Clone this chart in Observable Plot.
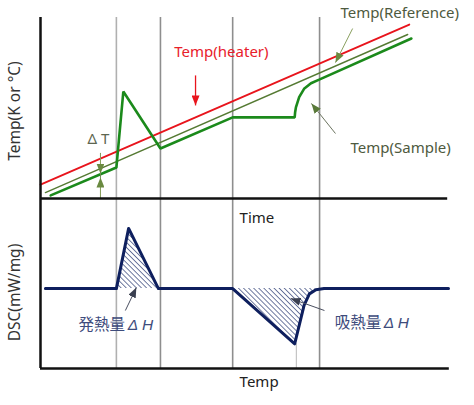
<!DOCTYPE html>
<html><head><meta charset="utf-8">
<script src="https://cdn.jsdelivr.net/npm/d3@7"></script>
<script src="https://cdn.jsdelivr.net/npm/@observablehq/plot@0.6"></script>
<style>
body{margin:0;background:#fff;}
#wrap{position:relative;width:474px;height:405px;}
#wrap svg{position:absolute;left:0;background:transparent;overflow:visible;}
</style></head><body><div id="wrap"></div>
<script>
// ---------- data: upper panel (temperature vs time) ----------
const heaterT = [0, 90.4];
const heaterY = [7.7, 96.1];
const refT = [1.2, 90.0];
const refY = [3.3, 90.6];
const sampleT = [2.5, 18.6, 20.3, 29.4, 47.1, 62.3, 62.4, 62.6, 63.4, 64.6, 66.3, 68.3, 90.9];
const sampleY = [1.7, 17.1, 59.1, 27.6, 44.8, 44.8, 47.5, 50.3, 56.0, 60.6, 63.7, 65.7, 88.4];
const eventT = [18.6, 29.4, 47.1, 68.4];
const eventColor = ["#b0b0b0", "#8e8e8e", "#8e8e8e", "#8e8e8e"];
const peakMinT = 62.7;

// ---------- data: lower panel (DSC vs temp) ----------
const dscT = [1.2, 18.6, 21.6, 28.9, 47.1, 62.3, 64.6, 65.9, 67.5, 69.5, 100];
const dscY = [47, 47, 82.4, 47, 47, 14.5, 37.1, 43.9, 46.3, 47, 47];
const dscBaseline = 47;
const exoIdx = [1, 2, 3];
const endoIdx = [4, 5, 6, 7, 8];

// ---------- labels ----------
const yLabelTop = "Temp(K or °C)";
const yLabelBottom = "DSC(mW/mg)";
const xLabelTop = "Time";
const xLabelBottom = "Temp";
const labelT = 48.8;

const topNotes = [
  {x: 32.8, y: 80.7, text: "Temp(heater)", color: "#e8202a"},
  {x: 73.5, y: 102.2, text: "Temp(Reference)", color: "#4e5a40"},
  {x: 76.0, y: 27.6, text: "Temp(Sample)", color: "#4e5a40"}
];
const deltaT = [{x: 14.2, y: 32.6, text: "Δ T"}];
const topArrows = [
  {x1: 38.0, y1: 68.0, x2: 38.0, y2: 51.4, c: "red"},
  {x1: 76.5, y1: 93.9, x2: 72.3, y2: 75.1, c: "olive"},
  {x1: 72.3, y1: 35.9, x2: 66.4, y2: 52.5, c: "gray"},
  {x1: 14.7, y1: 24.9, x2: 14.7, y2: 13.8, c: "olive"},
  {x1: 14.7, y1: 0, x2: 14.7, y2: 11.6, c: "olive"}
];
const bottomNotes = [
  {x: 9.3, y: 25.3, text: "発熱量"},
  {x: 72.1, y: 26.5, text: "吸熱量"}
];
const bottomDelta = [
  {x: 21.4, y: 25.3, text: "Δ H"},
  {x: 84.1, y: 26.5, text: "Δ H"}
];
const bottomArrows = [
  {x1: 20.8, y1: 34.1, x2: 23.5, y2: 47.6},
  {x1: 69.6, y1: 34.1, x2: 61.3, y2: 41.2}
];

const font = '"Noto Sans", "Noto Sans CJK JP", sans-serif';
const navy = "#0e1f5e";
const frameColor = "#111";

const sampleData = sampleT.map((t, i) => ({t, v: sampleY[i]}));
const heaterData = heaterT.map((t, i) => ({t, v: heaterY[i]}));
const refData = refT.map((t, i) => ({t, v: refY[i]}));
const dscData = dscT.map((t, i) => ({t, v: dscY[i]}));
const exoData = exoIdx.map(i => dscData[i]);
const endoData = endoIdx.map(i => dscData[i]);
const events = eventT.map((t, i) => ({t, c: eventColor[i]}));

const upper = Plot.plot({
  width: 474, height: 200,
  marginLeft: 40, marginRight: 26, marginTop: 17, marginBottom: 2,
  x: {domain: [0, 100], axis: null},
  y: {domain: [0, 100], axis: null},
  color: {type: "identity"},
  style: {background: "transparent", overflow: "visible", fontFamily: font},
  marks: [
    Plot.ruleX(events, {x: "t", y1: 0, y2: 100, stroke: "c", strokeWidth: 1.6}),
    Plot.line(heaterData, {x: "t", y: "v", stroke: "#e8141c", strokeWidth: 1.8}),
    Plot.line(refData, {x: "t", y: "v", stroke: "#557a33", strokeWidth: 1.4}),
    Plot.line(sampleData, {x: "t", y: "v", stroke: "#1b8a1b", strokeWidth: 2.6, strokeLinejoin: "miter"}),
    Plot.ruleX([14.7], {y1: 0, y2: 24.9, stroke: "#6f8a55", strokeWidth: 1}),
    Plot.link(topArrows.filter(d => d.c === "red"), {x1: "x1", y1: "y1", x2: "x2", y2: "y2", stroke: "#e8141c", strokeWidth: 1.3, className: "arr-red"}),
    Plot.link(topArrows.filter(d => d.c === "olive"), {x1: "x1", y1: "y1", x2: "x2", y2: "y2", stroke: "#8aa060", strokeWidth: 1, className: "arr-olive"}),
    Plot.link(topArrows.filter(d => d.c === "gray"), {x1: "x1", y1: "y1", x2: "x2", y2: "y2", stroke: "#6c7460", strokeWidth: 1, className: "arr-green"}),
    Plot.text(topNotes, {x: "x", y: "y", text: "text", fill: "color", textAnchor: "start", fontSize: 15}),
    Plot.text(deltaT, {x: "x", y: "y", text: "text", fill: "#5d6650", textAnchor: "middle", fontSize: 15}),
    Plot.ruleX([0], {y1: 0, y2: 100, stroke: frameColor, strokeWidth: 2.5}),
    Plot.ruleY([0], {x1: 0, x2: 99.8, stroke: frameColor, strokeWidth: 2.5}),
    Plot.text([yLabelTop], {frameAnchor: "left", textAnchor: "middle", dx: -25, dy: 3, rotate: -90, fontSize: 15.5, fill: "#333"})
  ]
});

const lower = Plot.plot({
  width: 474, height: 207,
  marginLeft: 40, marginRight: 26, marginTop: 0, marginBottom: 37,
  x: {domain: [0, 100], axis: null},
  y: {domain: [0, 100], axis: null},
  color: {type: "identity"},
  style: {background: "transparent", overflow: "visible", fontFamily: font},
  marks: [
    Plot.ruleX(events, {x: "t", y1: 0, y2: 100, stroke: "c", strokeWidth: 1.6}),
    Plot.ruleX([peakMinT], {y1: 0, y2: 14.5, stroke: "#b8b8b8", strokeWidth: 1}),
    Plot.areaY(exoData, {x: "t", y1: dscBaseline, y2: "v", fill: "url(#hatch)"}),
    Plot.areaY(endoData, {x: "t", y1: dscBaseline, y2: "v", fill: "url(#hatch)"}),
    Plot.line(dscData, {x: "t", y: "v", stroke: navy, strokeWidth: 3, curve: "linear"}),
    Plot.link(bottomArrows, {x1: "x1", y1: "y1", x2: "x2", y2: "y2", stroke: "#4a4f60", strokeWidth: 1, className: "arr-dark"}),
    Plot.text(bottomNotes, {x: "x", y: "y", text: "text", fill: "#3e4c7c", textAnchor: "start", fontSize: 15.5, fontFamily: '"Noto Sans CJK JP", sans-serif'}),
    Plot.text(bottomDelta, {x: "x", y: "y", text: "text", fill: "#3e4c7c", textAnchor: "start", fontSize: 15.5, fontStyle: "italic", fontFamily: '"Liberation Sans", sans-serif'}),
    Plot.ruleX([0], {y1: 0, y2: 100, stroke: frameColor, strokeWidth: 2.5}),
    Plot.ruleY([0], {x1: 0, x2: 100.2, stroke: frameColor, strokeWidth: 2.5}),
    Plot.text([{t: labelT, s: xLabelTop}], {x: "t", text: "s", frameAnchor: "top", dy: 14, textAnchor: "start", fontSize: 15, fill: "#222"}),
    Plot.text([{t: labelT, s: xLabelBottom}], {x: "t", text: "s", frameAnchor: "bottom", dy: 18, textAnchor: "start", fontSize: 15, fill: "#222"}),
    Plot.text([yLabelBottom], {frameAnchor: "left", textAnchor: "middle", dx: -25, dy: 9, rotate: -90, fontSize: 15.5, fill: "#333"})
  ]
});

function addDefs(svg) {
  const defs = d3.select(svg).insert("defs", ":first-child");
  const pat = defs.append("pattern").attr("id", "hatch").attr("patternUnits", "userSpaceOnUse")
    .attr("width", 3.6).attr("height", 3.6).attr("patternTransform", "rotate(-45)");
  pat.append("line").attr("x1", 0).attr("y1", 0).attr("x2", 0).attr("y2", 3.6)
    .attr("stroke", "#23346e").attr("stroke-width", 1.3);
  const mk = (id, color) => {
    const m = defs.append("marker").attr("id", id).attr("viewBox", "0 0 10 8")
      .attr("refX", 10).attr("refY", 4).attr("markerWidth", 10).attr("markerHeight", 8)
      .attr("markerUnits", "userSpaceOnUse").attr("orient", "auto");
    m.append("path").attr("d", "M0,0L10,4L0,8Z").attr("fill", color);
  };
  mk("m-red", "#e8141c");
  mk("m-olive", "#6a8a40");
  mk("m-green", "#5a7a3a");
  mk("m-dark", "#3a3f50");
  d3.select(svg).selectAll(".arr-red path").attr("marker-end", "url(#m-red)");
  d3.select(svg).selectAll(".arr-olive path").attr("marker-end", "url(#m-olive)");
  d3.select(svg).selectAll(".arr-green path").attr("marker-end", "url(#m-green)");
  d3.select(svg).selectAll(".arr-dark path").attr("marker-end", "url(#m-dark)");
}
addDefs(upper);
addDefs(lower);

const wrap = document.getElementById("wrap");
lower.style.top = "198px";
upper.style.top = "0px";
wrap.appendChild(lower);
wrap.appendChild(upper);
</script></body></html>
